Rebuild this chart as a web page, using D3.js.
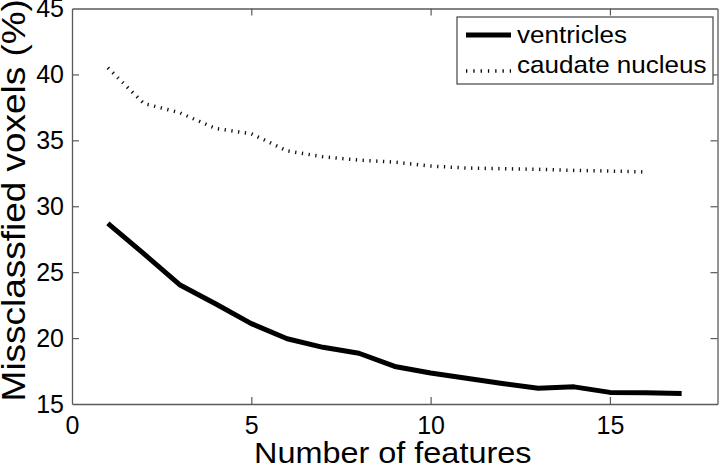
<!DOCTYPE html>
<html>
<head>
<meta charset="utf-8">
<script src="https://cdn.jsdelivr.net/npm/d3@7"></script>
<style>
  body { margin: 0; background: #fff; }
  svg { display: block; font-family: "Liberation Sans", Arial, sans-serif; }
</style>
</head>
<body>
<div id="chart"></div>
<script>
const ventricleFeatures = [1,2,3,4,5,6,7,8,9,10,11,12,13,14,15,16,17];
const ventricleValues = [28.7,26.4,24.05,22.6,21.1,19.95,19.3,18.85,17.85,17.35,16.95,16.55,16.2,16.3,15.88,15.85,15.8];
const caudateFeatures = [1,2,3,4,5,6,7,8,9,10,11,12,13,14,15,16];
const caudateValues = [40.5,37.8,37.1,35.9,35.5,34.2,33.75,33.5,33.35,33.05,32.9,32.85,32.8,32.72,32.67,32.6];
const xTicks = [0,5,10,15];
const yTicks = [15,20,25,30,35,40,45];
const seriesNames = ["ventricles", "caudate nucleus"];

const W = 720, H = 466;
const margin = {top: 8.5, right: 2.5, bottom: 62, left: 72};
const width = W - margin.left - margin.right,
      height = H - margin.top - margin.bottom;

const svg = d3.select("#chart")
  .append("svg")
    .attr("width", W)
    .attr("height", H)
  .append("g")
    .attr("transform", `translate(${margin.left},${margin.top})`);

const x = d3.scaleLinear().domain([0, 18]).range([0, width]);
const y = d3.scaleLinear().domain([15, 45]).range([height, 0]);

const axisColor = "#5a5a5a";
const tickLen = 7;

// four sides, ticks pointing inward like matlab
const xAxis = svg.append("g")
  .attr("transform", `translate(0,${height})`)
  .call(d3.axisBottom(x).tickValues(xTicks).tickSizeInner(-tickLen).tickSizeOuter(0).tickPadding(12));
const yAxis = svg.append("g")
  .call(d3.axisLeft(y).tickValues(yTicks).tickSizeInner(-tickLen).tickSizeOuter(0).tickPadding(8));
const xTop = svg.append("g")
  .call(d3.axisTop(x).tickValues(xTicks).tickSizeInner(-tickLen).tickSizeOuter(0).tickFormat(""));
const yRight = svg.append("g")
  .attr("transform", `translate(${width},0)`)
  .call(d3.axisRight(y).tickValues(yTicks).tickSizeInner(-tickLen).tickSizeOuter(0).tickFormat(""));

[xAxis, yAxis, xTop, yRight].forEach(g => {
  g.select(".domain").attr("stroke", axisColor).attr("stroke-width", 1.3);
  g.selectAll(".tick line").attr("stroke", axisColor).attr("stroke-width", 1.2);
  g.selectAll(".tick text")
    .attr("fill", "#000")
    .style("font-size", "25px")
    .style("font-family", "Liberation Sans, Arial, sans-serif");
});
xAxis.selectAll(".tick").filter(d => d === 0).select("line").remove();
xTop.selectAll(".tick").filter(d => d === 0).select("line").remove();
yAxis.selectAll(".tick").filter(d => d === 15 || d === 45).select("line").remove();
yRight.selectAll(".tick").filter(d => d === 15 || d === 45).select("line").remove();
xAxis.selectAll(".tick text").attr("dy", "0.71em");

// axis titles (the original font runs a bit wider, hence the stretch)
svg.append("text")
  .attr("transform", `translate(${width / 2 - 2},${height + 58.5}) scale(1.08,1)`)
  .attr("text-anchor", "middle")
  .style("font-size", "30px")
  .text("Number of features");

svg.append("text")
  .attr("transform", `translate(-47.5,${height / 2 - 6}) rotate(-90) scale(1.12,1)`)
  .attr("text-anchor", "middle")
  .style("font-size", "33px")
  .text("Missclassfied voxels (%)");

const line = d3.line()
  .x(d => x(d[0]))
  .y(d => y(d[1]));

svg.append("path")
  .datum(ventricleFeatures.map((f, i) => [f, ventricleValues[i]]))
  .attr("d", line)
  .attr("fill", "none")
  .attr("stroke", "#000")
  .attr("stroke-width", 5)
  .attr("stroke-linejoin", "round");

svg.append("path")
  .datum(caudateFeatures.map((f, i) => [f, caudateValues[i]]))
  .attr("d", line)
  .attr("fill", "none")
  .attr("stroke", "#111")
  .attr("stroke-width", 3.5)
  .attr("stroke-dasharray", "1.3,5.5");

// legend
const lg = svg.append("g").attr("transform", `translate(${457 - margin.left},${17 - margin.top})`);
lg.append("rect")
  .attr("width", 256)
  .attr("height", 67)
  .attr("fill", "#fff")
  .attr("stroke", "#444")
  .attr("stroke-width", 1.2);
const rows = lg.selectAll("g.row")
  .data(seriesNames)
  .enter().append("g")
  .attr("transform", (d, i) => `translate(0,${26 + i * 30})`);
rows.append("line")
  .attr("x1", 9).attr("x2", 54)
  .attr("y1", (d, i) => i === 0 ? -8 : -2)
  .attr("y2", (d, i) => i === 0 ? -8 : -2)
  .attr("stroke", "#000")
  .attr("stroke-width", (d, i) => i === 0 ? 5 : 3.5)
  .attr("stroke-dasharray", (d, i) => i === 0 ? null : "1.3,6");
rows.append("text")
  .attr("transform", "translate(60,0) scale(1.085,1)")
  .style("font-size", "24px")
  .text(d => d);
</script>
</body>
</html>
